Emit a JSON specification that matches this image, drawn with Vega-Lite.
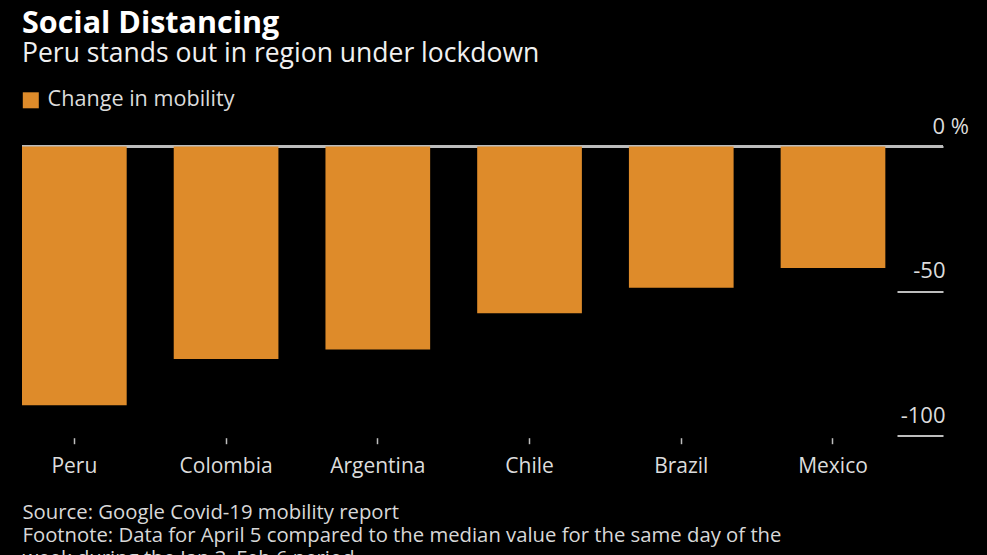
{
  "$schema": "https://vega.github.io/schema/vega-lite/v6.json",
  "width": 921,
  "height": 289.2,
  "autosize": {"type": "none"},
  "padding": {"left": 22, "top": 146.5, "right": 44, "bottom": 119.3},
  "background": "#000000",
  "title": {
    "text": "Social Distancing",
    "subtitle": "Peru stands out in region under lockdown",
    "anchor": "start",
    "frame": "group",
    "font": "Open Sans",
    "fontSize": 30.5,
    "fontWeight": "bold",
    "color": "#ffffff",
    "subtitleFont": "Open Sans",
    "subtitleFontSize": 26.5,
    "subtitleColor": "#f0f0f0",
    "subtitlePadding": 2,
    "offset": 22
  },
  "data": {
    "values": [
      {"country": "Peru", "change": -89.5, "series": "Change in mobility"},
      {"country": "Colombia", "change": -73.5, "series": "Change in mobility"},
      {"country": "Argentina", "change": -70.2, "series": "Change in mobility"},
      {"country": "Chile", "change": -57.7, "series": "Change in mobility"},
      {"country": "Brazil", "change": -48.8, "series": "Change in mobility"},
      {"country": "Mexico", "change": -42, "series": "Change in mobility"}
    ]
  },
  "layer": [
    {
      "mark": {"type": "rule", "color": "#bdbdbd", "strokeWidth": 2},
      "encoding": {"y": {"datum": 0, "type": "quantitative"}}
    },
    {
      "mark": {"type": "bar", "color": "#DE8B2A"},
      "encoding": {
        "x": {
          "field": "country",
          "type": "nominal",
          "sort": null,
          "scale": {"paddingInner": 0.31, "paddingOuter": 0.19, "align": 0},
          "axis": {
            "title": [
              "Source: Google Covid-19 mobility report",
              "Footnote: Data for April 5 compared to the median value for the same day of the",
              "week during the Jan 3\u2013Feb 6 period"
            ],
            "titleFont": "Open Sans",
            "titleFontSize": 20.3,
            "titleFontWeight": "normal",
            "titleColor": "#d8d8d8",
            "titleLineHeight": 23,
            "titleAnchor": "start",
            "titleAlign": "left",
            "titleBaseline": "alphabetic",
            "titleX": 0,
            "titleY": 80.3,
            "domain": false,
            "offset": 2,
            "ticks": true,
            "tickSize": 6,
            "tickColor": "#bdbdbd",
            "tickWidth": 1.5,
            "labelAngle": 0,
            "labelFont": "Open Sans",
            "labelFontSize": 21,
            "labelColor": "#dcdcdc",
            "labelBaseline": "alphabetic",
            "labelPadding": 29
          }
        },
        "y": {
          "field": "change",
          "type": "quantitative",
          "scale": {"domain": [-100, 0], "nice": false, "zero": false},
          "axis": {
            "orient": "right",
            "title": null,
            "values": [0, -50, -100],
            "domain": false,
            "grid": false,
            "ticks": true,
            "tickSize": -46,
            "tickColor": "#bdbdbd",
            "tickWidth": 2,
            "labelExpr": "datum.value == 0 ? '0 %' : '' + datum.value",
            "labelFont": "Open Sans",
            "labelFontSize": 22,
            "labelColor": "#dcdcdc",
            "labelBaseline": "alphabetic",
            "labelOffset": -13.5,
            "labelAlign": {"condition": {"test": "datum.value == 0", "value": "left"}, "value": "right"},
            "labelPadding": {"condition": {"test": "datum.value == 0", "value": 35}, "value": 48}
          }
        },
        "color": {
          "field": "series",
          "type": "nominal",
          "scale": {"range": ["#DE8B2A"]},
          "legend": {
            "title": null,
            "orient": "none",
            "legendX": -2,
            "legendY": -57,
            "padding": 0,
            "symbolType": "square",
            "symbolSize": 256,
            "symbolStrokeWidth": 0,
            "symbolOpacity": 1,
            "labelFont": "Open Sans",
            "labelFontSize": 21.6,
            "labelColor": "#dcdcdc",
            "labelOffset": 6,
            "labelLimit": 400
          }
        }
      }
    }
  ],
  "config": {"view": {"stroke": null}}
}
